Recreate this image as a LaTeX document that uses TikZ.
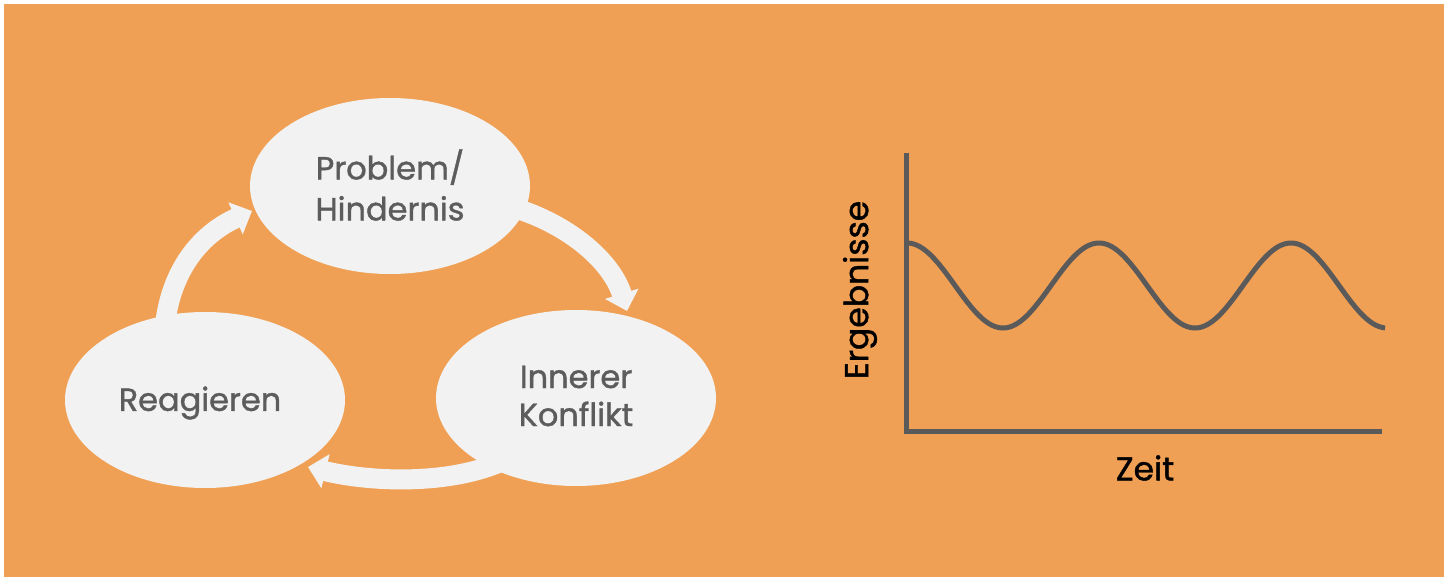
\documentclass[tikz,border=0pt]{standalone}
\usepackage{fontspec}
\setmainfont{Poppins}[BoldFont=Poppins, BoldFeatures={FakeBold=1.2}]
\usetikzlibrary{shapes.geometric,arrows.meta,calc}
\definecolor{bgorange}{HTML}{F0A054}
\definecolor{ellfill}{HTML}{F2F2F2}
\definecolor{txtgray}{HTML}{5C5C5C}
\definecolor{plotgray}{HTML}{5A5A5A}
\begin{document}
\begin{tikzpicture}[x=1pt,y=-1pt,
  stage/.style={ellipse, fill=ellfill, minimum width=280pt, minimum height=176pt, inner sep=0pt},
  stagetext/.style={text=txtgray, align=center, inner sep=0pt, font=\fontsize{32}{41}\selectfont\bfseries},
  cyclearrow/.style={draw=ellfill, line width=20pt, -{Triangle[width=34pt,length=18pt]}},
  axisline/.style={draw=plotgray, line width=5pt},
  axislabel/.style={text=black, font=\fontsize{33}{36}\selectfont\bfseries, inner sep=0pt}]
\useasboundingbox (0,0) rectangle (1450,577);
\fill[white] (0,0) rectangle (1450,577);
\fill[bgorange] (4,4) rectangle (1444,577);
% arrow tips
\coordinate (t1) at (627,311);
\coordinate (t2) at (308,467);
\coordinate (t3) at (252,211);
% stage positions
\coordinate (pc) at (390,186);
\coordinate (kc) at (576,398);
\coordinate (rc) at (205,400);
% invisible helpers for arrow starts
\node[stage, fill=none] (prob) at (pc) {};
\node[stage, fill=none] (konf) at (kc) {};
\node[stage, fill=none] (reag) at (rc) {};
% arrows (under the ellipses)
\draw[cyclearrow] ($(prob.center)!0.92!(prob.-10)$) .. controls (570,225) and (612,262) .. (t1);
\draw[cyclearrow] ($(konf.center)!0.92!(konf.-140)$) .. controls (445,485) and (370,482) .. (t2);
\draw[cyclearrow] ($(reag.center)!0.9!(reag.118)$) .. controls (172,265) and (205,232) .. (t3);
% ellipses and labels
\node[stage] (probE) at (pc) {};
\node[stage] (konfE) at (kc) {};
\node[stage] (reagE) at (rc) {};
\node[stagetext] (probT) at ([shift={(0,-1)}]probE.center) {Problem/\\Hindernis};
\node[stagetext, font=\fontsize{32}{38}\selectfont\bfseries] (konfT) at ([shift={(0,-2)}]konfE.center) {Innerer\\Konflikt};
\node[stagetext] (reagT) at ([shift={(-5,3)}]reagE.center) {Reagieren};
% chart
\coordinate (ytop) at (906,153);
\coordinate (origin) at (906,431);
\coordinate (xend) at (1382,431);
\draw[axisline, line join=miter] (ytop) -- (origin) -- (xend);
\draw[axisline] plot[domain=907:1385, samples=240, smooth] (\x, {285.5 - 42.5*cos(1.875*(\x-907))});
\node[axislabel, rotate=90] (ylab) at (860,290) {Ergebnisse};
\node[axislabel] (xlab) at (1145,468) {Zeit};
\end{tikzpicture}
\end{document}
